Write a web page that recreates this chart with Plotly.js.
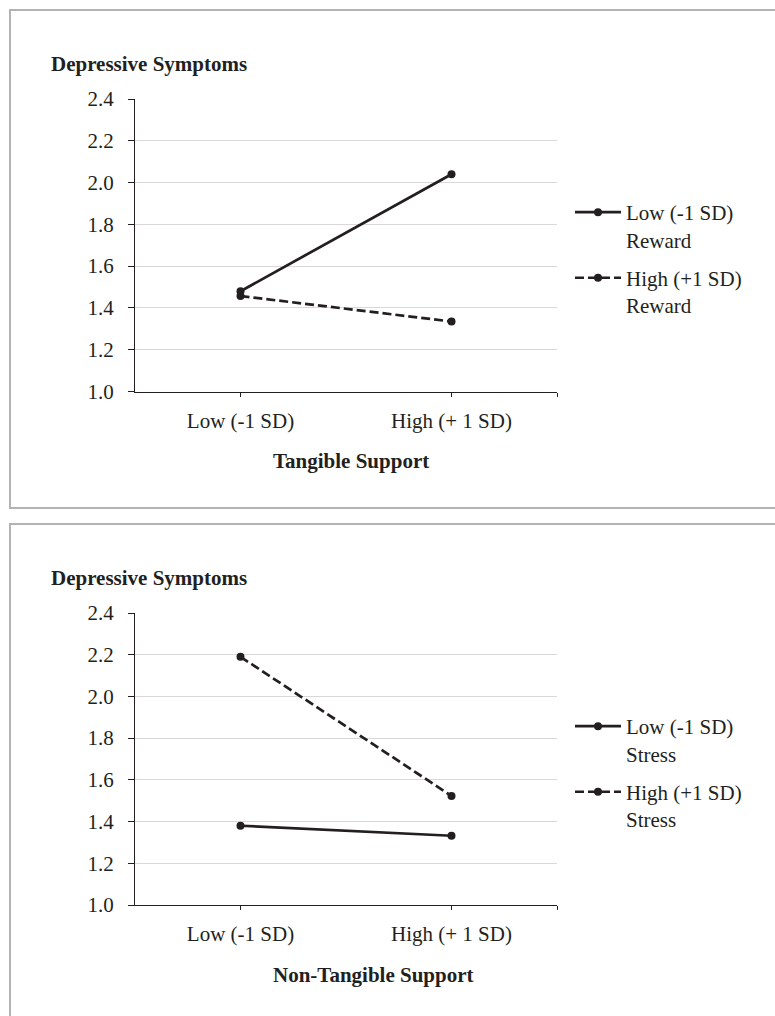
<!DOCTYPE html>
<html>
<head>
<meta charset="utf-8">
<script src="https://cdn.plot.ly/plotly-3.0.1.min.js"></script>
<style>
  html, body { margin: 0; padding: 0; background: #ffffff; }
  #chart { width: 775px; height: 1016px; }
</style>
</head>
<body>
<div id="chart"></div>
<script>
// ---- data ----
const categories = ['Low (-1 SD)', 'High (+ 1 SD)'];
const yTickVals = [1.0, 1.2, 1.4, 1.6, 1.8, 2.0, 2.2, 2.4];

// Panel 1: Tangible Support
const tangibleLowReward  = [1.48, 2.04];
const tangibleHighReward = [1.457, 1.335];
// Panel 2: Non-Tangible Support
const nonTangibleLowStress  = [1.38, 1.332];
const nonTangibleHighStress = [2.19, 1.523];

const panelNames = {
  top: ['Low (-1 SD)<br>Reward', 'High (+1 SD)<br>Reward'],
  bottom: ['Low (-1 SD)<br>Stress', 'High (+1 SD)<br>Stress']
};
const yTitle = 'Depressive Symptoms';
const xTitles = ['Tangible Support', 'Non-Tangible Support'];

// ---- helpers ----
const W = 775, H = 1016;
const px = v => v / W;
const py = v => 1 - v / H;
const xIdx = categories.map((c, i) => i);
const FONT = '"Liberation Serif", "Times New Roman", serif';
const INK = '#231f20';

function trace(y, name, dash, xa, ya, leg, grp) {
  return {
    type: 'scatter', mode: 'lines+markers',
    x: xIdx, y: y, name: name,
    xaxis: xa, yaxis: ya, legend: leg, legendgroup: grp,
    line: { color: INK, width: 2.7, dash: dash },
    marker: { color: INK, size: 8, symbol: 'circle' },
    hoverinfo: 'x+y'
  };
}

const data = [
  trace(tangibleLowReward, panelNames.top[0], 'solid', 'x', 'y', 'legend', 'a'),
  trace(tangibleHighReward, panelNames.top[1], '9px,4px', 'x', 'y', 'legend', 'b'),
  trace(nonTangibleLowStress, panelNames.bottom[0], 'solid', 'x2', 'y2', 'legend2', 'c'),
  trace(nonTangibleHighStress, panelNames.bottom[1], '9px,4px', 'x2', 'y2', 'legend2', 'd')
];

function xAxis(anchor) {
  return {
    anchor: anchor,
    domain: [px(135), px(557)],
    range: [-0.5, 1.5],
    tickmode: 'array',
    tickvals: xIdx.concat([1.5]),
    ticktext: categories.concat(['']),
    ticks: 'outside', ticklen: 4, tickwidth: 1, tickcolor: INK,
    showline: true, linecolor: INK, linewidth: 1,
    showgrid: false, zeroline: false,
    ticklabelstandoff: 6,
    tickfont: { family: FONT, size: 21, color: INK },
    fixedrange: true
  };
}
function yAxis(anchor, top, bottom) {
  return {
    anchor: anchor,
    domain: [py(bottom), py(top)],
    range: [1.0, 2.4],
    tickmode: 'array',
    tickvals: yTickVals,
    tickformat: '.1f',
    ticks: 'outside', ticklen: 6, tickwidth: 1, tickcolor: INK,
    showline: true, linecolor: INK, linewidth: 1,
    showgrid: true, gridcolor: '#d9d9d9', gridwidth: 1,
    zeroline: false,
    ticklabelstandoff: 10,
    tickfont: { family: FONT, size: 21, color: INK },
    fixedrange: true
  };
}

function legend(topY) {
  return {
    x: px(570), y: py(topY), xanchor: 'left', yanchor: 'top',
    font: { family: FONT, size: 21, color: INK },
    bgcolor: 'rgba(0,0,0,0)', borderwidth: 0,
    valign: 'top', itemwidth: 46, tracegroupgap: 8,
    traceorder: 'grouped', itemclick: false, itemdoubleclick: false
  };
}

const border = { color: '#b3b3b3', width: 2 };
const layout = {
  width: W, height: H,
  margin: { l: 0, r: 0, t: 0, b: 0 },
  paper_bgcolor: '#ffffff', plot_bgcolor: '#ffffff',
  font: { family: FONT, size: 21, color: INK },
  showlegend: true,
  xaxis: xAxis('y'),
  yaxis: yAxis('x', 99, 391.5),
  xaxis2: xAxis('y2'),
  yaxis2: yAxis('x2', 613, 905),
  legend: legend(192),
  legend2: legend(706),
  shapes: [
    { type: 'rect', xref: 'paper', yref: 'paper', x0: px(10), x1: 1.02, y0: py(508), y1: py(10), line: border, layer: 'below' },
    { type: 'rect', xref: 'paper', yref: 'paper', x0: px(10), x1: 1.02, y0: -0.02, y1: py(524), line: border, layer: 'below' }
  ],
  annotations: [
    { xref: 'paper', yref: 'paper', x: px(49), y: py(64), xanchor: 'left', yanchor: 'middle', showarrow: false,
      text: '<b>' + yTitle + '</b>', font: { family: FONT, size: 21, color: INK } },
    { xref: 'paper', yref: 'paper', x: px(351), y: py(461), xanchor: 'center', yanchor: 'middle', showarrow: false,
      text: '<b>' + xTitles[0] + '</b>', font: { family: FONT, size: 21, color: INK } },
    { xref: 'paper', yref: 'paper', x: px(49), y: py(578), xanchor: 'left', yanchor: 'middle', showarrow: false,
      text: '<b>' + yTitle + '</b>', font: { family: FONT, size: 21, color: INK } },
    { xref: 'paper', yref: 'paper', x: px(373), y: py(975), xanchor: 'center', yanchor: 'middle', showarrow: false,
      text: '<b>' + xTitles[1] + '</b>', font: { family: FONT, size: 21, color: INK } }
  ]
};

Plotly.newPlot('chart', data, layout, { displayModeBar: false, staticPlot: true });
</script>
</body>
</html>
